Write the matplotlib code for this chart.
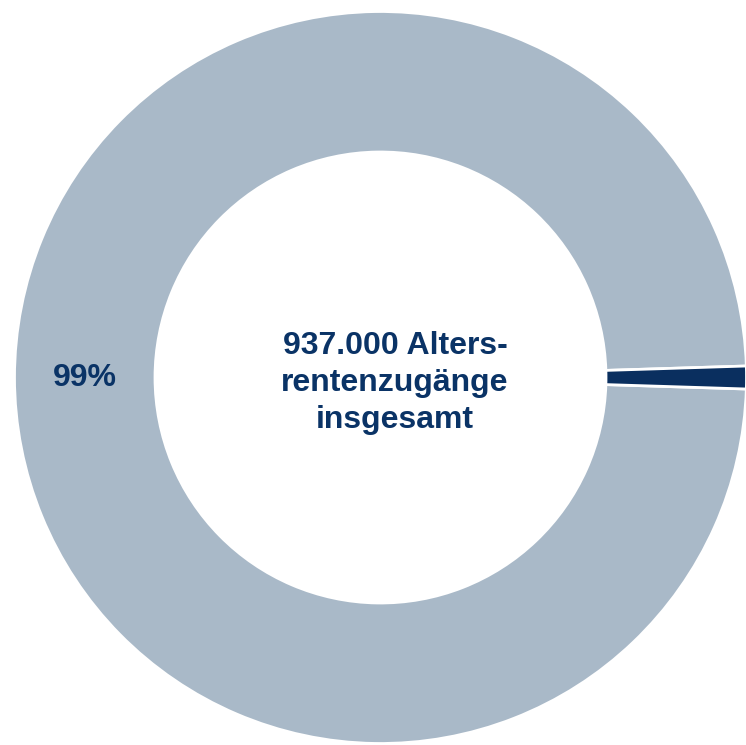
import matplotlib.pyplot as plt

# share of new old-age pensions (percent)
shares = [99, 1]
labels = ['99%', '']
colors = ['#a9b9c8', '#0a2f5f']
center_text = '937.000 Alters-\nrentenzugänge\ninsgesamt'

W, H = 746, 745
cx, cy, R = 380.5, 377.5, 366.0
inner = 225.5 / R

fig = plt.figure(figsize=(W / 100, H / 100), dpi=100)
ax = fig.add_axes([0, 0, 1, 1])

wedges, texts = ax.pie(shares, labels=labels, colors=colors, startangle=1.8,
                       labeldistance=(1 + inner) / 2,
                       wedgeprops=dict(width=1 - inner, edgecolor='white', linewidth=2),
                       textprops=dict(color='#0a3366', fontsize=23, fontweight='bold',
                                      family='Liberation Sans', ha='center', va='center'))

ax.text((395 - cx) / R, (cy - 383) / R, center_text, ha='center', va='center',
        fontsize=23, fontweight='bold', color='#0a3366', family='Liberation Sans',
        linespacing=1.3)

ax.set_aspect('auto')
ax.set_xlim(-cx / R, (W - cx) / R)
ax.set_ylim(-(H - cy) / R, cy / R)
ax.axis('off')

fig.savefig('out.png', dpi=100)
